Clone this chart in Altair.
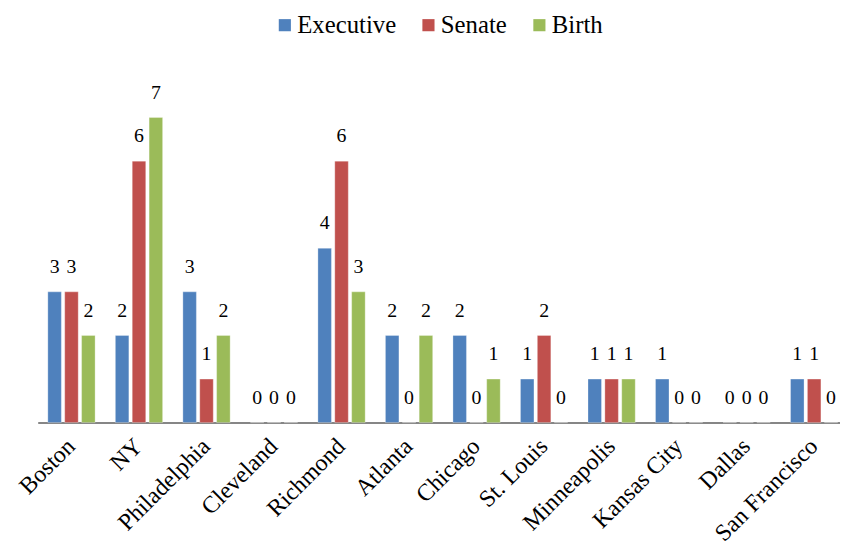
import altair as alt
import pandas as pd

cities = ["Boston", "NY", "Philadelphia", "Cleveland", "Richmond", "Atlanta",
          "Chicago", "St. Louis", "Minneapolis", "Kansas City", "Dallas", "San Francisco"]
executive = [3, 2, 3, 0, 4, 2, 2, 1, 1, 1, 0, 1]
senate = [3, 6, 1, 0, 6, 0, 0, 2, 1, 0, 0, 1]
birth = [2, 7, 2, 0, 3, 2, 1, 0, 1, 0, 0, 0]
series = ["Executive", "Senate", "Birth"]
colors = ["#4F81BD", "#C0504D", "#9BBB59"]

rows = []
for i, c in enumerate(cities):
    for s, vals in zip(series, [executive, senate, birth]):
        rows.append({"city": c, "series": s, "value": vals[i]})
df = pd.DataFrame(rows)

FONT = "'Liberation Serif', 'Times New Roman', 'DejaVu Serif', serif"

x = alt.X("city:N", sort=cities,
          scale=alt.Scale(range=[0, 818], paddingInner=0.3, paddingOuter=0.15),
          axis=alt.Axis(title=None, labelAngle=-45, labelAlign="right",
                        labelBaseline="middle", labelFont=FONT, labelFontSize=24,
                        labelColor="black", ticks=False, domainColor="#868686",
                        domainWidth=2, labelPadding=20, labelOverlap=False))
xo = alt.XOffset("series:N", sort=series,
                 scale=alt.Scale(domain=series, paddingInner=0.2, paddingOuter=0))
y = alt.Y("value:Q", scale=alt.Scale(domain=[0, 8]), axis=None)

bars = alt.Chart(df).mark_bar(stroke="white", strokeWidth=0.5, strokeOpacity=0.6).encode(
    x=x, xOffset=xo, y=y,
    color=alt.Color("series:N", sort=series,
                    scale=alt.Scale(domain=series, range=colors),
                    legend=alt.Legend(title=None, orient="none", legendX=237, legendY=-62,
                                      direction="horizontal", symbolType="square",
                                      symbolSize=150, symbolStrokeWidth=0,
                                      labelFont=FONT, labelFontSize=25, labelColor="black",
                                      columnPadding=20, labelOffset=0))
)

labels = alt.Chart(df).mark_text(dy=-19, baseline="alphabetic", font=FONT,
                                 fontSize=20, color="black").encode(
    x=x, xOffset=xo, y=y, text="value:Q"
)

chart = alt.layer(bars, labels).properties(
    width=810, height=352,
    autosize=alt.AutoSizeParams(type="none"),
    padding={"left": 30, "top": 64, "right": 0, "bottom": 125}
).configure_view(stroke=None)

chart.save("out.html", embed_options={"renderer": "svg", "actions": False})
